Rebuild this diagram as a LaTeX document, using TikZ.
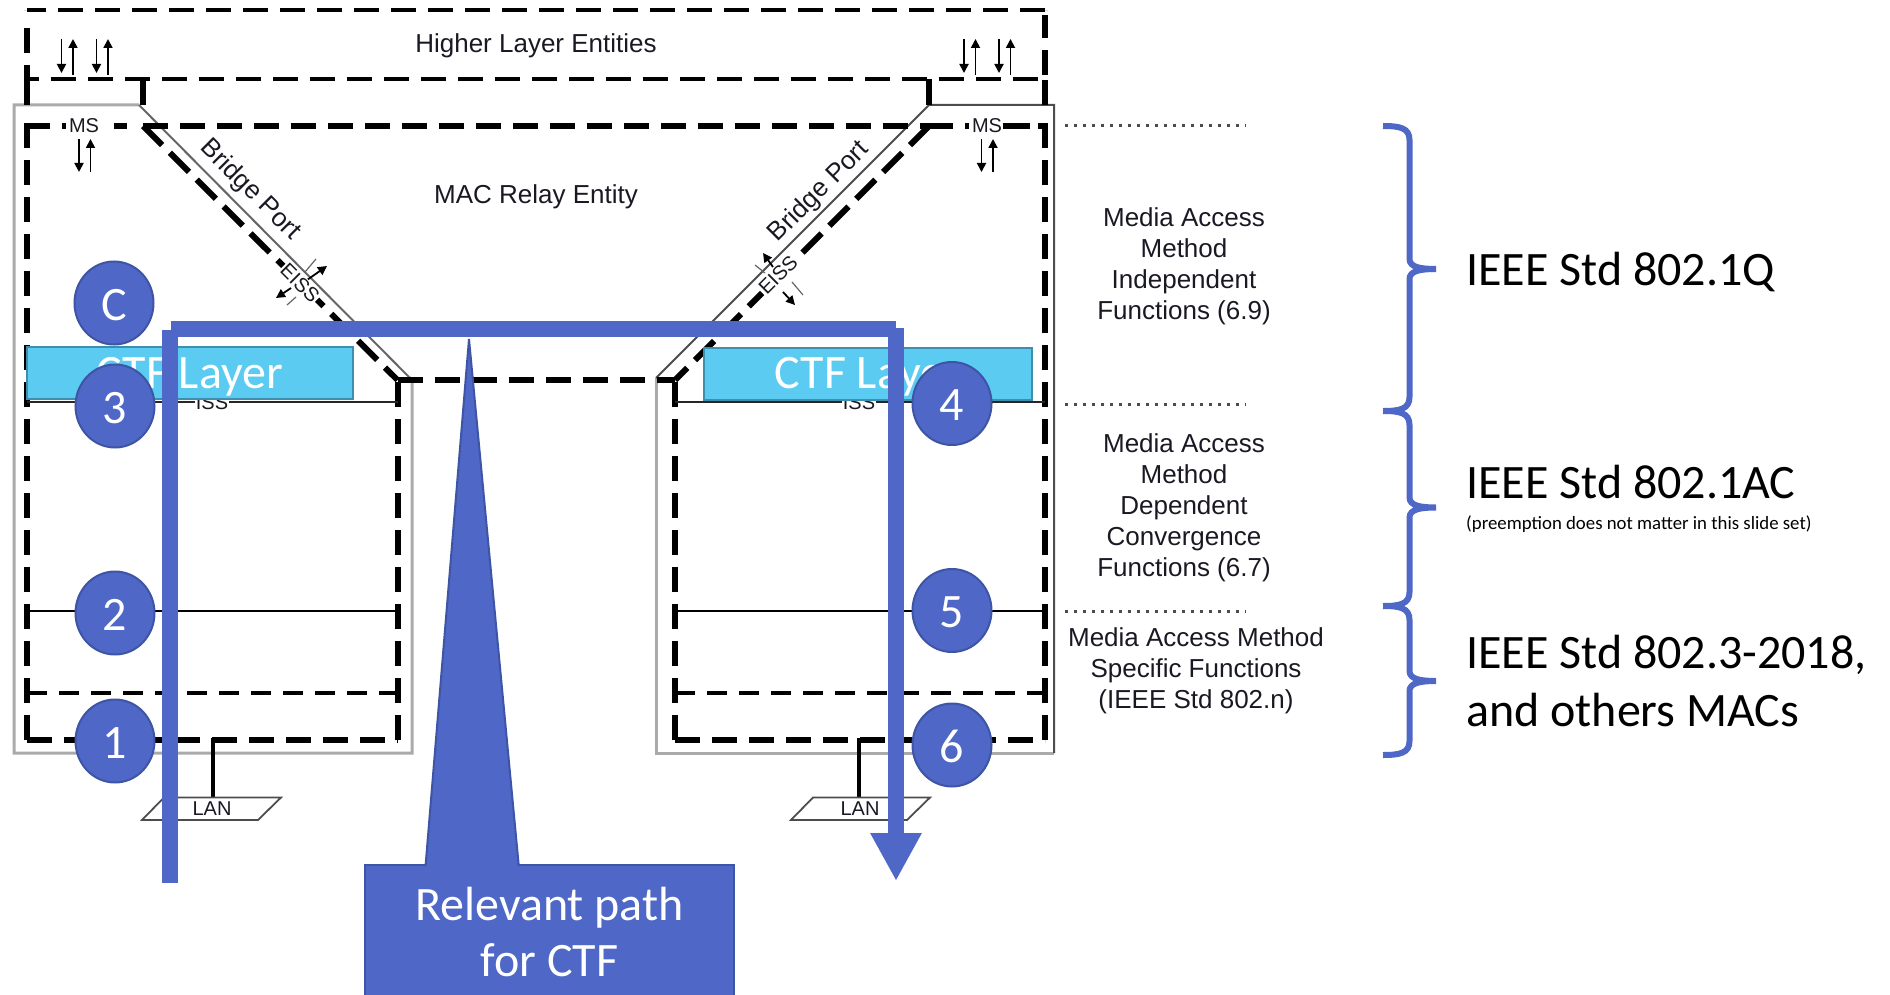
\documentclass[tikz,border=0pt]{standalone}
\usepackage{fontspec}
\setmainfont{Liberation Sans}
\newfontfamily\slidefont{Carlito}
\usetikzlibrary{shapes.geometric,arrows.meta}
\definecolor{pathblue}{RGB}{79,103,198}
\definecolor{edgeblue}{RGB}{62,84,165}
\definecolor{ctfcyan}{RGB}{92,203,242}
\definecolor{ctfedge}{RGB}{62,143,175}
\definecolor{boxgray}{RGB}{170,170,170}
\definecolor{printink}{RGB}{25,25,35}
\tikzset{
	thickdash/.style={line width=6pt, dash pattern=on 25pt off 12pt},
	slantdash/.style={line width=6pt, dash pattern=on 27pt off 11pt},
	upperdash/.style={line width=4.5pt, dash pattern=on 25pt off 12pt},
	lowdash/.style={line width=3.5pt, dash pattern=on 20pt off 12pt},
	thinline/.style={line width=2pt, black!85},
	portarrow/.style={line width=1.8pt, -{Triangle[length=9pt,width=9pt]}},
	printtext/.style={text=printink, font=\fontsize{26}{31}\selectfont, align=center, inner sep=0pt},
	smalltext/.style={text=printink, font=\fontsize{20}{24}\selectfont, fill=white, inner sep=1pt},
	slidetext/.style={text=black, anchor=base west, inner sep=0pt, font=\slidefont\fontsize{48}{54}\selectfont},
	ctfbox/.style={
		draw=ctfedge,         % darker border
		line width=2pt,
		fill=ctfcyan,
		text=white,
		minimum height=52pt,
		inner sep=0pt,
		text height=30pt,     % keeps the words low in the box
		text depth=0pt,
		font=\slidefont\fontsize{48}{54}\selectfont
	},
	markblob/.style={
		ellipse,
		draw=edgeblue,
		line width=2pt,
		fill=pathblue,
		text=white,
		minimum width=79pt,
		minimum height=83pt,
		inner sep=0pt,
		text height=34pt,
		text depth=0pt,
		font=\slidefont\fontsize{48}{54}\selectfont
	},
	pathline/.style={line width=16pt, draw=pathblue},
	bracestroke/.style={line width=6pt, draw=pathblue}
}

\begin{document}
\begin{tikzpicture}[x=1pt,y=-1pt]
	\clip (0,0) rectangle (1890,995);

	% outer boxes
	\draw[line width=3pt, boxgray] (139,105) -- (14,105) -- (14,753) -- (412,753) -- (412,380) -- (409,377);
	\draw[line width=2pt, black!60] (139,105) -- (409,377);
	\draw[line width=3pt, boxgray] (656,378) -- (656,753) -- (1054,753);
	\draw[line width=2pt, black!70] (656,378) -- (929,105) -- (1054,105) -- (1054,753);

	% higher layer
	\draw[upperdash] (1045,10) -- (27,10);
	\draw[upperdash] (1038,79) -- (27,79);
	\draw[line width=6pt, dash pattern=on 40pt off 12pt on 25pt off 18pt on 10pt] (27,105) -- (27,10);
	\draw[line width=6pt, dash pattern=on 25pt off 5pt on 25pt off 12pt on 23pt off 5pt] (1045,105) -- (1045,10);
	\draw[line width=6pt] (143,79) -- (143,105);
	\draw[line width=6pt] (929,79) -- (929,105);

	% relay entity
	\draw[thickdash] (143,126) -- (929,126);
	\draw[slantdash] (143,126) -- (397.5,380);
	\draw[slantdash] (929,126) -- (675,380);
	\draw[thickdash] (397.5,380) -- (675,380);
	\draw[line width=6pt] (27,126) -- (50,126) (62,126) -- (66,126) (114,126) -- (127,126);
	\draw[line width=6pt] (920,126) -- (953,126) (965,126) -- (969,126) (1003,126) -- (1030,126) (1038,126) -- (1042,126);

	% the two port columns
	\foreach \xa/\xb/\xc/\ya/\yb in {27/397.5/212.5/115/380, 675/1045/859/380/115}{
		\draw[thickdash] (\xa,740) -- (\xa,\ya);
		\draw[thickdash] (\xb,740) -- (\xb,\yb);
		\draw[thickdash] (\xa,740) -- (\xb,740);
		\draw[thinline] (\xa,402) -- (\xb,402);
		\draw[thinline, black] (\xa,611) -- (\xb,611);
		\draw[lowdash] (\xa,693) -- (\xb,693);
		\draw[line width=4pt] (\xc,738) -- (\xc,797);
	}

	% LAN
	\foreach \xl/\xm in {142/212, 791/860}{
		\draw[line width=1.8pt, black!70] (\xl,820) -- (\xl+22,797.5) -- (\xl+139,797.5) -- (\xl+116,820) -- cycle;
		\node[smalltext, fill=none] at (\xm,808.5) {LAN};
	}

	% small arrows
	\foreach \xd in {61.5, 96.5, 964, 999}{
		\draw[portarrow] (\xd,39) -- (\xd,73);
		\draw[portarrow] (\xd+11.5,75) -- (\xd+11.5,39);
	}
	\foreach \xd in {79, 981.5}{
		\draw[portarrow] (\xd,139) -- (\xd,172);
		\draw[portarrow] (\xd+11.5,172) -- (\xd+11.5,139);
	}
	\draw[portarrow] (307,280) -- (327,266);
	\draw[portarrow] (291,288) -- (276,298);
	\draw[portarrow] (773,267) -- (763,253);
	\draw[portarrow] (783,292) -- (795,305);
	\draw[line width=1.2pt, black!60] (316,259) -- (305,272) (296,297) -- (287,305) (755,265) -- (765,273) (792,282) -- (803,295);

	% printed labels
	\node[printtext] (higher) at (536,46) {Higher Layer Entities};
	\node[printtext] (relay) at (536,197) {MAC Relay Entity};
	\node[printtext, rotate=-45] (portleft) at (250,190) {Bridge Port};
	\node[printtext, rotate=45] (portright) at (819,192) {Bridge Port};
	\node[smalltext, rotate=-45] (eissleft) at (300,283) {EISS};
	\node[smalltext, rotate=45] (eissright) at (778,275) {EISS};
	\node[smalltext] (msleft) at (84,126) {MS};
	\node[smalltext] (msright) at (987,126) {MS};
	\node[smalltext] (issleft) at (212,403) {ISS};
	\node[smalltext] (issright) at (859,403) {ISS};
	\node[printtext] (indep) at (1184,266) {Media Access\\Method\\Independent\\Functions (6.9)};
	\node[printtext] (dep) at (1184,508) {Media Access\\Method\\Dependent\\Convergence\\Functions (6.7)};
	\node[printtext] (specific) at (1196,671) {Media Access Method\\Specific Functions\\(IEEE Std 802.n)};

	% dotted separators
	\foreach \yd in {126, 404, 611.5}{
		\draw[line width=3pt, black!70, dash pattern=on 3pt off 6pt] (1065,\yd) -- (1246,\yd);
	}

	% CTF layers
	\node[ctfbox, minimum width=326pt] (ctfleft) at (190,373) {CTF Layer};
	\node[ctfbox, minimum width=328pt] (ctfright) at (868,373.5) {CTF Layer};

	% relevant path
	\coordinate (pathstart) at (170,883);
	\coordinate (pathleft) at (170,330);
	\coordinate (pathturn) at (171,329);
	\coordinate (pathcorner) at (896,329);
	\coordinate (pathright) at (896,328);
	\coordinate (pathend) at (896,881);
	\draw[pathline] (pathstart) -- (pathleft);
	\draw[pathline] (pathturn) -- (pathcorner);
	\draw[pathline, -{Triangle[length=48pt,width=48pt]}] (pathright) -- (pathend);

	% callout
	\coordinate (spiketip) at (469,339);
	\node[draw=edgeblue, line width=2pt, fill=pathblue, text=white, anchor=north west, align=center,
		minimum width=369pt, minimum height=134pt, inner sep=0pt,
		font=\slidefont\fontsize{48}{56}\selectfont] (callout) at (364,864) {Relevant path\\for CTF};
	\draw[line width=2pt, draw=edgeblue, fill=pathblue] (425.7,866) -- (425.7,864) -- (spiketip) -- (518.6,864) -- (518.6,866);

	% numbered marks
	\foreach \nm/\cx/\cy in {C/114/303, 3/115/406, 2/115/613, 1/115/741, 4/952/403.5, 5/952/610.5, 6/952/745}{
		\node[markblob] (mark\nm) at (\cx,\cy) {\nm};
	}

	% braces
	\foreach \ya/\yb/\yc in {126/269/411, 411/507.5/606, 606/681/755}{
		\draw[bracestroke] (1383,\ya) .. controls (1400,\ya) and (1409.5,\ya+2) .. (1409.5,\ya+14)
			-- (1409.5,\yb-10) .. controls (1409.5,\yb-2) and (1420,\yb) .. (1436,\yb)
			.. controls (1420,\yb) and (1409.5,\yb+2) .. (1409.5,\yb+10)
			-- (1409.5,\yc-14) .. controls (1409.5,\yc-2) and (1400,\yc) .. (1383,\yc);
	}
	\node[slidetext] (stdq) at (1466,285.5) {IEEE Std 802.1Q};
	\node[slidetext] (stdac) at (1466,498.5) {IEEE Std 802.1AC};
	\node[slidetext, font=\slidefont\fontsize{18.8}{24}\selectfont] (stdnote) at (1466,529) {(preemption does not matter in this slide set)};
	\node[slidetext] (stdmac) at (1466,668.5) {IEEE Std 802.3-2018,};
	\node[slidetext] (stdothers) at (1466,726.5) {and others MACs};
\end{tikzpicture}
\end{document}
